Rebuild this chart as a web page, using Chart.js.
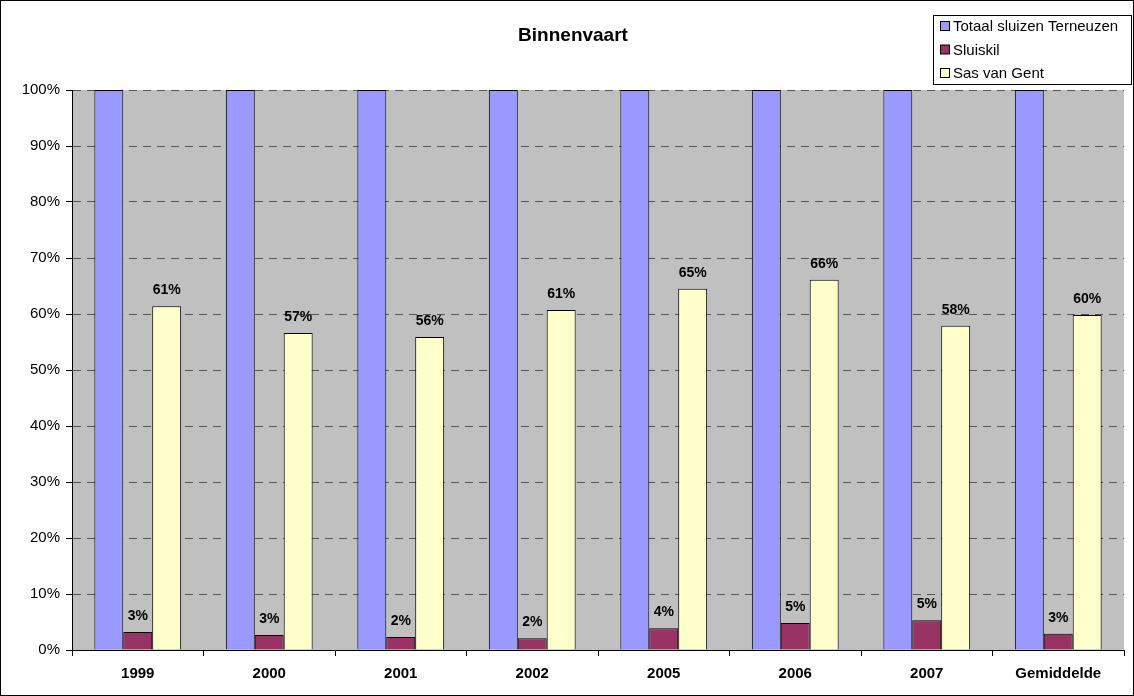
<!DOCTYPE html>
<html>
<head>
<meta charset="utf-8">
<script src="https://cdn.jsdelivr.net/npm/chart.js@4/dist/chart.umd.min.js"></script>
<style>
  html, body { margin: 0; padding: 0; background: #fff; }
  #wrap { width: 1134px; height: 696px; }
</style>
</head>
<body>
<div id="wrap"><canvas id="myChart" width="1134" height="696"></canvas></div>
<script>
const years = ['1999', '2000', '2001', '2002', '2005', '2006', '2007', 'Gemiddelde']
const totaal = [100, 100, 100, 100, 100, 100, 100, 100]
const sluiskil = [3.2, 2.7, 2.3, 2.1, 3.9, 4.8, 5.3, 2.9]
const sasVanGent = [61.4, 56.6, 55.9, 60.7, 64.5, 66.1, 57.9, 59.8]
const seriesNames = ['Totaal sluizen Terneuzen', 'Sluiskil', 'Sas van Gent']

const FONT = 'Arial, "Liberation Sans", sans-serif'

// labels above the Sluiskil and Sas van Gent bars, legend, title and frame
const extras = {
    id: 'extras',
    afterDatasetsDraw(chart) {
        const ctx = chart.ctx
        ctx.save()
        ctx.fillStyle = '#000'
        ctx.font = 'bold 14px ' + FONT
        ctx.textAlign = 'center'
        ctx.textBaseline = 'alphabetic'
        for (let d = 1; d < 3; d++) {
            const meta = chart.getDatasetMeta(d)
            meta.data.forEach((bar, i) => {
                const v = chart.data.datasets[d].data[i]
                ctx.fillText(Math.round(v) + '%', bar.x, bar.y - 12)
            })
        }
        ctx.restore()
    },
    afterDraw(chart) {
        const ctx = chart.ctx
        ctx.save()
        // frame
        ctx.strokeStyle = '#000'
        ctx.lineWidth = 1
        ctx.strokeRect(0.5, 0.5, chart.width - 1, chart.height - 1)
        // title
        ctx.fillStyle = '#000'
        ctx.font = 'bold 19px ' + FONT
        ctx.textAlign = 'center'
        ctx.textBaseline = 'middle'
        ctx.fillText('Binnenvaart', 573, 36)
        // legend
        ctx.fillStyle = '#fff'
        ctx.fillRect(933.5, 15.5, 198, 69)
        ctx.strokeRect(933.5, 15.5, 198, 69)
        ctx.font = '15px ' + FONT
        ctx.textAlign = 'left'
        chart.data.datasets.forEach((ds, i) => {
            const y = 26 + i * 23.5
            ctx.fillStyle = ds.backgroundColor
            ctx.fillRect(940.5, y - 4.5, 9, 9)
            ctx.strokeRect(940.5, y - 4.5, 9, 9)
            ctx.fillStyle = '#000'
            ctx.fillText(ds.label, 953, y + 1)
        })
        ctx.restore()
    }
}

const plotBg = {
    id: 'plotBg',
    beforeDraw(chart) {
        const a = chart.chartArea
        chart.ctx.save()
        chart.ctx.fillStyle = '#C0C0C0'
        chart.ctx.fillRect(a.left, a.top, a.right - a.left, a.bottom - a.top)
        chart.ctx.restore()
    }
}

new Chart(document.getElementById('myChart'), {
    type: 'bar',
    data: {
        labels: years,
        datasets: [
            { label: seriesNames[0], data: totaal, backgroundColor: '#9999FF', borderColor: '#000', borderWidth: 1 },
            { label: seriesNames[1], data: sluiskil, backgroundColor: '#993366', borderColor: '#000', borderWidth: 1 },
            { label: seriesNames[2], data: sasVanGent, backgroundColor: '#FFFFCC', borderColor: '#000', borderWidth: 1 }
        ]
    },
    options: {
        responsive: false,
        animation: false,
        layout: { padding: { top: 90, right: 10, bottom: 0, left: 0 } },
        datasets: { bar: { categoryPercentage: 0.66, barPercentage: 1 } },
        plugins: { legend: { display: false }, title: { display: false }, tooltip: { enabled: false } },
        scales: {
            x: {
                afterFit(s) { s.height = 46 },
                grid: { offset: true, drawOnChartArea: false, color: '#000', tickLength: 6 },
                border: { color: '#000', width: 1 },
                ticks: { color: '#000', font: { family: FONT, size: 15, weight: 'bold' }, padding: 9 }
            },
            y: {
                min: 0,
                max: 100,
                afterFit(s) { s.width = 72 },
                grid: { color: '#555', tickColor: '#000', tickLength: 6, tickBorderDash: [] },
                border: { color: '#000', width: 1, dash: [8, 6] },
                ticks: {
                    stepSize: 10,
                    color: '#000',
                    padding: 6,
                    font: { family: FONT, size: 15 },
                    callback: v => v + '%'
                }
            }
        }
    },
    plugins: [plotBg, extras]
})
</script>
</body>
</html>
